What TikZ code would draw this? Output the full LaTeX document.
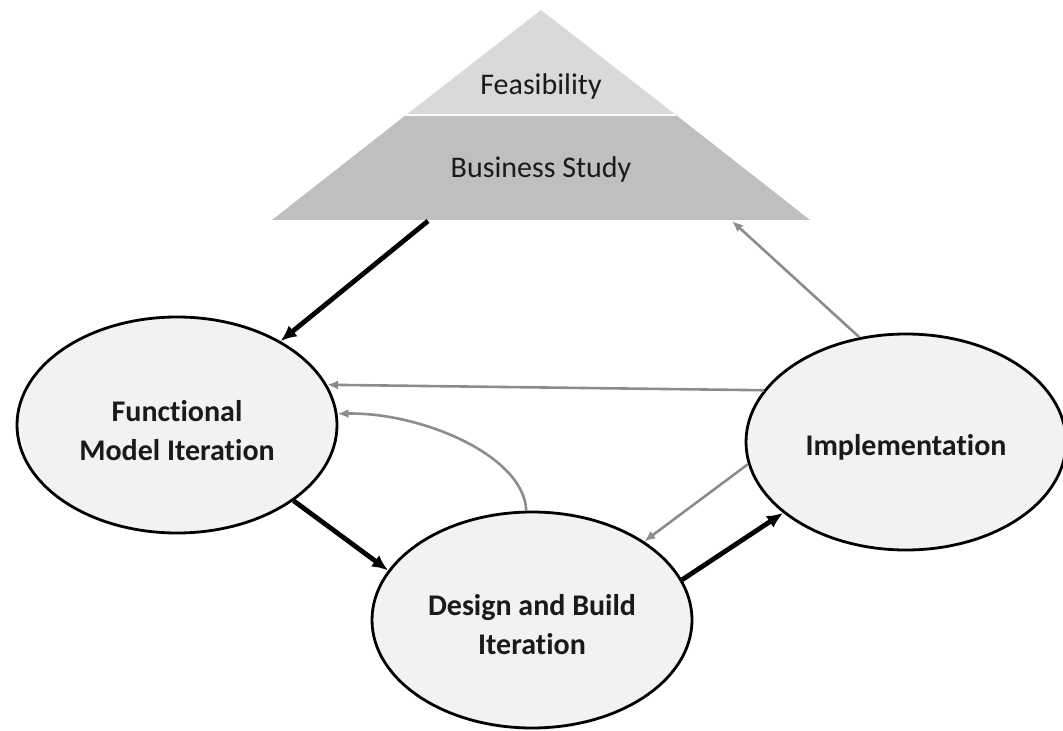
\documentclass[tikz,border=0pt]{standalone}
\usepackage{fontspec}
\setmainfont{Carlito}[Ligatures=NoCommon]
\usetikzlibrary{arrows.meta,shapes.geometric}

\definecolor{toptier}{HTML}{D9D9D9}
\definecolor{lowtier}{HTML}{BFBFBF}
\definecolor{phasefill}{HTML}{F2F2F2}
\definecolor{backline}{HTML}{8C8C8C}
\definecolor{phasetext}{HTML}{1A1A1A}

\begin{document}
\begin{tikzpicture}[x=0.5pt, y=-0.5pt,
    phase/.style={ellipse, draw=black, line width=1.4pt, fill=phasefill,
      minimum width=160pt, minimum height=108pt, inner sep=0pt},
    phaselabel/.style={align=center, font=\fontsize{15}{19.5}\selectfont\bfseries,
      text=phasetext},
    tierlabel/.style={font=\fontsize{15}{18}\selectfont, text=phasetext},
    forward/.style={-{Latex[length=8pt,width=7pt]}, line width=2.4pt, black},
    backward/.style={-{Latex[length=5.5pt,width=4.5pt]}, line width=1.3pt, backline}]
      \useasboundingbox (0,0) rectangle (1063,731);

      \fill[lowtier] (272,220) -- (810,220) -- (676,115) -- (406,115) -- cycle;
      \fill[toptier] (406,115) -- (541,10) -- (676,115) -- cycle;
      \draw[white, line width=0.6pt] (406,115) -- (676,115);
      \node[tierlabel] (feas) at (541,87) {Feasibility};
      \node[tierlabel] (bstudy) at (541,170) {Business Study};
      \coordinate (bsout) at (428,221);
      \coordinate (bsin) at (732,221);

      \node[phase] (fmi) at (177,425) {};
      \node[phase] (dbi) at (532,620) {};
      \node[phase] (imp) at (906,442) {};
      \node[phaselabel] (fmitext) at (177,431) {Functional\\Model Iteration};
      \node[phaselabel] (dbitext) at (532,625) {Design and Build\\Iteration};
      \node[phaselabel] (imptext) at (906,447) {Implementation};

      \draw[forward] (bsout) -- (fmi.39);
      \draw[forward] (fmi.-33) -- (dbi.161);
      \draw[forward] (dbi.15) -- (imp.210);

      \draw[backward] (imp.114) -- (bsin);
      \draw[backward] (imp.160) -- (fmi.15);
      \draw[backward] (imp.188) -- (dbi.35);
      \draw[backward] (dbi.93) .. controls (524,455) and (420,412) .. (fmi.4);

    \end{tikzpicture}
\end{document}
